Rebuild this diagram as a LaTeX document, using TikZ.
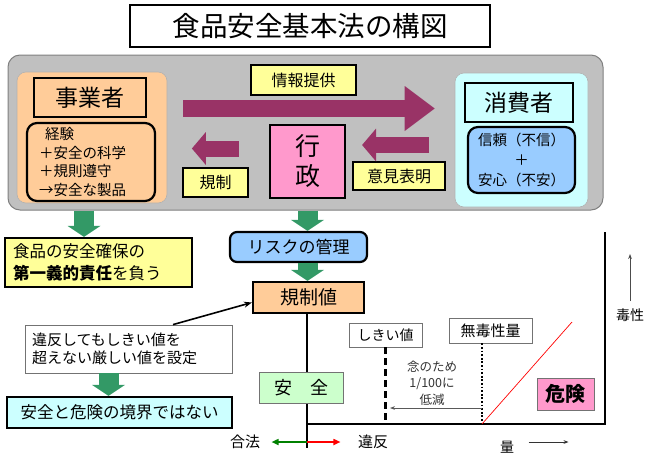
\documentclass[tikz,border=0pt]{standalone}
\usepackage{fontspec}
\setmainfont{Noto Sans CJK JP}
\usetikzlibrary{arrows.meta, calc}

\definecolor{panelgray}{HTML}{C0C0C0}
\definecolor{bizorange}{HTML}{FFCC99}
\definecolor{noteyellow}{HTML}{FFFF99}
\definecolor{arrowplum}{HTML}{993366}
\definecolor{govpink}{HTML}{FF99CC}
\definecolor{usercyan}{HTML}{CCFFFF}
\definecolor{userblue}{HTML}{99CCFF}
\definecolor{safegreen}{HTML}{CCFFCC}
\definecolor{flowgreen}{HTML}{339966}

\newcommand{\fsz}[2]{\fontsize{#1}{#2}\selectfont}

\begin{document}
\begin{tikzpicture}[x=1pt, y=-1pt,
  box/.style={draw, line width=2.2pt, inner sep=0pt, align=center},
  thinbox/.style={draw=black!55, line width=0.8pt, inner sep=0pt, align=center},
  plate/.style={draw=black!30, line width=0.6pt, rounded corners=9pt, inner sep=0pt},
  plumbig/.style={color=arrowplum, line width=17pt, -{Triangle[width=45pt,length=30pt,line width=0pt]}},
  plumsmall/.style={color=arrowplum, line width=16pt, -{Triangle[width=33pt,length=14pt,line width=0pt]}},
  flow/.style={color=flowgreen, line width=20pt, -{Triangle[width=33pt,length=11pt,line width=0pt]}},
  thin arrow/.style={line width=0.8pt, -{Stealth[length=5pt]}},
  side arrow/.style={line width=1.6pt, -{Triangle[length=7pt,width=6pt]}}]
\useasboundingbox (0,0) rectangle (650,456);

% title
\node[box, fill=white, minimum width=360pt, minimum height=42pt, font=\fsz{27.5}{31}] (Title) at (310,26) {食品安全基本法の構図};

% upper panel
\node[draw=black!50, fill=panelgray, line width=1pt, rounded corners=12pt, minimum width=595pt, minimum height=155pt] (Panel) at (305.5,132.5) {};

% business operators
\node[plate, fill=bizorange, minimum width=150pt, minimum height=131pt] (BizPanel) at (92,137.5) {};
\node[box, fill=bizorange, minimum width=112pt, minimum height=39pt, font=\fsz{23}{26}] (Biz) at (90,97.5) {事業者};
\node[box, fill=bizorange, rounded corners=10pt, minimum width=128pt, minimum height=78pt, text width=104pt, align=left, font=\fsz{14.5}{18.5}] (BizNote) at (91,162) {\hspace*{6pt}経験\\＋安全の科学\\＋規則遵守\\→安全な製品};

% administration
\node[box, fill=noteyellow, minimum width=105pt, minimum height=30pt, font=\fsz{16}{19}] (Info) at (303.5,80) {情報提供};
\node[box, fill=govpink, minimum width=75pt, minimum height=73pt, font=\fsz{25}{30}] (Gov) at (307.5,161.5) {行\\政};
\node[box, fill=noteyellow, minimum width=65pt, minimum height=29pt, font=\fsz{16}{19}] (Reg) at (215.5,182.5) {規制};
\node[box, fill=noteyellow, minimum width=92pt, minimum height=28pt, font=\fsz{16}{19}] (Opin) at (399,176) {意見表明};

% consumers
\node[plate, fill=usercyan, minimum width=133pt, minimum height=134pt] (UserPanel) at (521.5,140) {};
\node[box, fill=usercyan, minimum width=108pt, minimum height=39pt, font=\fsz{23}{26}] (User) at (519,102.5) {消費者};
\node[box, fill=userblue, rounded corners=10pt, minimum width=107pt, minimum height=66pt, font=\fsz{14.5}{20}] (UserNote) at (521.5,160) {信頼（不信）\\＋\\安心（不安）};

% block arrows
\draw[plumbig] ([shift={(16pt,29pt)}]BizPanel.east) -- ([shift={(-20pt,31.5pt)}]UserPanel.west);
\draw[plumsmall] ([shift={(-30pt,13pt)}]Gov.west) -- ([shift={(-77pt,13pt)}]Gov.west);
\draw[plumsmall] ([shift={(83pt,16.5pt)}]Gov.east) -- ([shift={(16pt,16.5pt)}]Gov.east);

% lower left
\node[box, fill=noteyellow, minimum width=187pt, minimum height=49pt, text width=171pt, align=left, font=\fsz{16.5}{22}] (Resp) at (98.5,262.5) {食品の安全確保の\\\textbf{第一義的責任}を負う};
\coordinate (F1) at ($(BizPanel.south |- Panel.south)+(-8,0)$);
\draw[flow] (F1) -- (F1 |- Resp.north);

\node[thinbox, fill=white, minimum width=207pt, minimum height=48pt, text width=193pt, align=left, font=\fsz{15}{18.5}] (Viol) at (128.5,349) {違反してもしきい値を\\超えない厳しい値を設定};
\node[box, fill=usercyan, minimum width=225pt, minimum height=31pt, font=\fsz{16.5}{20}] (Bound) at (119.5,412.5) {安全と危険の境界ではない};
\coordinate (F4) at ($(Viol.south)+(-20,0)$);
\draw[flow] (F4) -- (F4 |- Bound.north);

% risk management
\node[box, fill=userblue, rounded corners=7pt, minimum width=137pt, minimum height=30pt, font=\fsz{17}{20}] (Risk) at (298.5,247) {リスクの管理};
\node[box, fill=bizorange, minimum width=111pt, minimum height=31pt, font=\fsz{19}{22}] (Limit) at (308.5,297.5) {規制値};
\draw[flow] (Gov.south |- Panel.south) -- (Gov.south |- Risk.north);
\draw[flow] (Gov.south |- Risk.south) -- (Gov.south |- Limit.north);
\draw[line width=1.6pt, -{Stealth[length=8pt]}] ($(Viol.north)+(44.5,0)$) -- ($(Limit.west)+(0,5)$);

% chart axes
\coordinate (Orig) at (307,424);
\coordinate (AxBot) at (307,448);
\coordinate (AxRight) at (605,424);
\coordinate (AxTop) at (605,232);
\draw[line width=2.5pt] (Orig |- Limit.south) -- (AxBot);
\draw[line width=2.2pt] (Orig) -- (AxRight) -- (AxTop);
\node[thinbox, fill=safegreen, minimum width=84pt, minimum height=31pt, font=\fsz{18}{22}] (Safe) at (301,387.5) {安　全};

% threshold and NOAEL
\node[thinbox, fill=white, minimum width=73pt, minimum height=24pt, font=\fsz{14}{17}] (Thr) at (385.5,335) {しきい値};
\node[thinbox, fill=white, minimum width=83pt, minimum height=25pt, font=\fsz{15}{18}] (Noael) at (490.5,330.5) {無毒性量};
\draw[line width=2.5pt, dash pattern=on 7pt off 4pt] (Thr.south) -- (Thr.south |- Orig);
\coordinate (NoaelFoot) at (482,424);
\coordinate (RedTop) at (572,322);
\draw[line width=1.8pt, dash pattern=on 1.8pt off 1.8pt] (NoaelFoot |- Noael.south) -- (NoaelFoot);
\draw[red, line width=0.7pt] (NoaelFoot) -- (RedTop);
\node[font=\fsz{12.5}{16.5}, align=center, text=black!80] (Note) at (432,383) {念のため\\1/100に\\低減};
\coordinate (Cut) at (390,408);
\draw[thin arrow, black!65] (Cut -| NoaelFoot) -- (Cut);
\node[thinbox, fill=govpink, minimum width=57pt, minimum height=32pt, font=\fsz{20}{24}\bfseries] (Danger) at (565.5,394) {危険};

% axis labels
\node[font=\fsz{14}{17}] (Tox) at (630,315) {毒性};
\draw[thin arrow, black!70] ($(Tox.north)+(0,-4)$) -- ++(0,-47);
\node[font=\fsz{14}{17}] (Qty) at (507,447) {量};
\draw[thin arrow, black!80] ($(Qty.east)+(11,-5)$) -- ++(40,0);
\node[font=\fsz{15}{18}] (Legal) at (245,442) {合法};
\node[font=\fsz{15}{18}] (Illegal) at (373,442) {違反};
\coordinate (Split) at (307,442);
\draw[side arrow, green!50!black] (Split) -- ($(Legal.east)+(8,0)$);
\draw[side arrow, red] (Split) -- ($(Illegal.west)+(-14,0)$);
\end{tikzpicture}
\end{document}
